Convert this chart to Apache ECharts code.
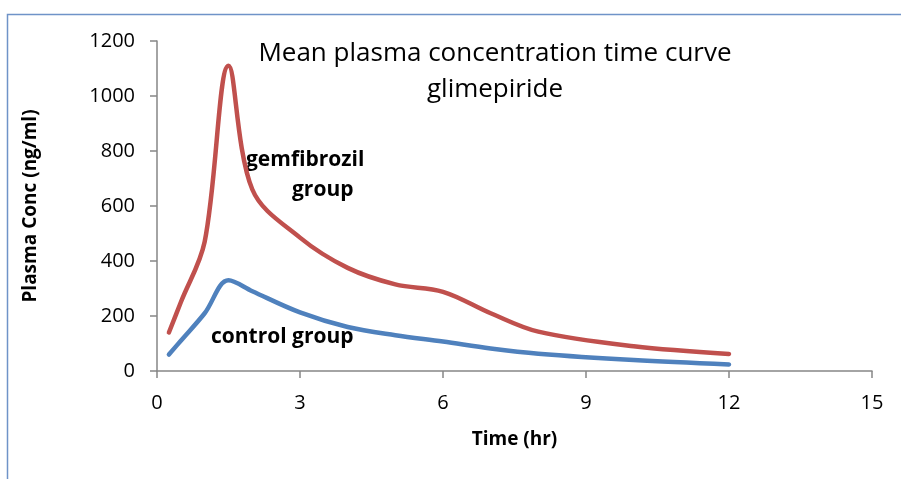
<!DOCTYPE html>
<html><head><meta charset="utf-8">
<script src="https://cdn.jsdelivr.net/npm/echarts@6/dist/echarts.min.js"></script>
<style>html,body{margin:0;padding:0;background:#fff}#c{width:901px;height:479px}</style>
</head><body><div id="c"></div>
<script>
const timeHr = [0.25, 0.5, 1, 1.5, 2, 3, 4, 5, 6, 7, 8, 10, 12];
const gemfibrozil = [140, 250, 470, 1110, 660, 485, 375, 315, 288, 210, 143, 90, 62];
const control = [60, 110, 210, 330, 290, 213, 160, 130, 107, 82, 63, 40, 24];
const xTicks = [0, 3, 6, 9, 12, 15];
const yTicks = [0, 200, 400, 600, 800, 1000, 1200];

const font = '"Open Sans", "Noto Sans", sans-serif';
const chart = echarts.init(document.getElementById('c'), null, {renderer: 'canvas'});
const pair = (xs, ys) => xs.map((x, i) => [x, ys[i]]);
chart.setOption({
  animation: false,
  backgroundColor: '#fff',
  grid: {left: 157, right: 29, top: 41, bottom: 108, containLabel: false},
  xAxis: {
    type: 'value', min: xTicks[0], max: xTicks[xTicks.length - 1], interval: 3,
    name: 'Time (hr)', nameLocation: 'middle', nameGap: 59,
    nameTextStyle: {fontFamily: font, fontWeight: 'bold', fontSize: 19, color: '#000'},
    axisLine: {show: true, lineStyle: {color: '#868686', width: 1.5}},
    axisTick: {show: true, length: 7, lineStyle: {color: '#868686', width: 1.5}},
    axisLabel: {fontFamily: font, fontSize: 20, color: '#000', margin: 22,
      formatter: v => String(v)},
    splitLine: {show: false}
  },
  yAxis: {
    type: 'value', min: yTicks[0], max: yTicks[yTicks.length - 1], interval: 200,
    name: 'Plasma Conc (ng/ml)', nameLocation: 'middle', nameGap: 117, nameRotate: 90,
    nameTextStyle: {fontFamily: font, fontWeight: 'bold', fontSize: 19, color: '#000'},
    axisLine: {show: true, lineStyle: {color: '#868686', width: 1.5}},
    axisTick: {show: true, length: 7, inside: false, lineStyle: {color: '#868686', width: 1.5}},
    axisLabel: {fontFamily: font, fontSize: 20, color: '#000', margin: 22,
      formatter: v => String(v)},
    splitLine: {show: false}
  },
  series: [
    {type: 'line', name: 'gemfibrozil group', data: pair(timeHr, gemfibrozil), smooth: 0.35,
     showSymbol: false, lineStyle: {color: '#C0504D', width: 4.5, cap: 'round', join: 'round'}, z: 3},
    {type: 'line', name: 'control group', data: pair(timeHr, control), smooth: 0.35,
     showSymbol: false, lineStyle: {color: '#4F81BD', width: 4.5, cap: 'round', join: 'round'}, z: 4}
  ],
  graphic: [
    {type: 'rect', left: 5, top: 12, shape: {width: 1000, height: 1000},
     style: {fill: 'none', stroke: '#6F93C8', lineWidth: 1.5}, silent: true},
    {type: 'text', x: 495, y: 54, style: {
      text: 'Mean plasma concentration time curve', align: 'center', verticalAlign: 'middle',
      font: '26px ' + font, fill: '#000'}},
    {type: 'text', x: 495, y: 90, style: {
      text: 'glimepiride', align: 'center', verticalAlign: 'middle',
      font: '26px ' + font, fill: '#000'}},
    {type: 'text', style: {text: 'gemfibrozil', font: 'bold 21px ' + font, fill: '#000', align: 'left', verticalAlign: 'middle'}, x: 246, y: 160},
    {type: 'text', style: {text: 'group', font: 'bold 21px ' + font, fill: '#000', align: 'left', verticalAlign: 'middle'}, x: 292, y: 190},
    {type: 'text', style: {text: 'control group', font: 'bold 21px ' + font, fill: '#000', align: 'left', verticalAlign: 'middle'}, x: 211, y: 337}
  ]
});
</script></body></html>
